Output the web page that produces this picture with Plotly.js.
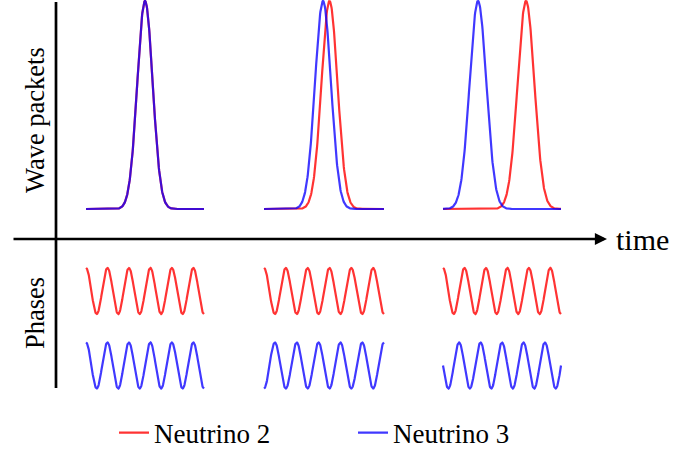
<!DOCTYPE html>
<html>
<head>
<meta charset="utf-8">
<script src="https://cdn.plot.ly/plotly-3.0.1.min.js"></script>
<style>
  html, body { margin: 0; padding: 0; background: #fff; }
  #chart { width: 675px; height: 453px; }
</style>
</head>
<body>
<div id="chart"></div>
<script>
// ---------- data (time units, origin at the vertical axis) ----------
const seriesNames = ['Neutrino 2', 'Neutrino 3'];
const groupStart = [30, 208, 387];          // start time of each snapshot window
const groupEnd = [148, 328, 505];           // end time of each snapshot window
const packetCenterN2 = [89, 273.5, 470];    // peak time of Neutrino 2 packet
const packetCenterN3 = [89, 267, 422];      // peak time of Neutrino 3 packet
const packetSpread = [7.7, 8.0, 8.4];       // packet width (std. dev.)
const phaseCycles = [5.5, 5.5, 5.5];        // oscillation cycles per window
const phaseShiftN2 = [0, 0, 0];             // phase (in units of pi)
const phaseShiftN3 = [0, 1, 0.5];           // phase (in units of pi)

// ---------- presentation ----------
const RED = 'rgb(255,0,0)';
const BLUE = 'rgb(10,0,255)';
const OPA_R = 0.8, OPA_B = 0.78;
const packetBase = 30, packetHeight = 208;
const phaseMidN2 = -52, phaseMidN3 = -126.5, phaseAmp = 23;
const NPTS = 400;

function packet(i, center) {
  const xs = [], ys = [];
  for (let k = 0; k <= NPTS; k++) {
    const t = groupStart[i] + (groupEnd[i] - groupStart[i]) * k / NPTS;
    xs.push(t);
    ys.push(packetBase + packetHeight * Math.exp(-0.5 * Math.pow((t - center) / packetSpread[i], 2)));
  }
  return {x: xs, y: ys};
}
function phase(i, shift, mid) {
  const xs = [], ys = [];
  const per = (groupEnd[i] - groupStart[i]) / phaseCycles[i];
  for (let k = 0; k <= NPTS; k++) {
    const t = groupStart[i] + (groupEnd[i] - groupStart[i]) * k / NPTS;
    xs.push(t);
    ys.push(mid + phaseAmp * Math.cos(2 * Math.PI * (t - groupStart[i]) / per + shift * Math.PI));
  }
  return {x: xs, y: ys};
}

const traces = [];
for (let i = 0; i < 3; i++) {
  const d = packet(i, packetCenterN2[i]);
  traces.push({x: d.x, y: d.y, mode: 'lines', line: {color: RED, width: 2.2}, opacity: OPA_R,
    name: seriesNames[0], legendgroup: 'n2', showlegend: i === 0, hoverinfo: 'skip'});
}
for (let i = 0; i < 3; i++) {
  const d = phase(i, phaseShiftN2[i], phaseMidN2);
  traces.push({x: d.x, y: d.y, mode: 'lines', line: {color: RED, width: 2.2}, opacity: OPA_R,
    name: seriesNames[0], legendgroup: 'n2', showlegend: false, hoverinfo: 'skip'});
}
for (let i = 0; i < 3; i++) {
  const d = packet(i, packetCenterN3[i]);
  traces.push({x: d.x, y: d.y, mode: 'lines', line: {color: BLUE, width: 2.2}, opacity: OPA_B,
    name: seriesNames[1], legendgroup: 'n3', showlegend: i === 0, hoverinfo: 'skip'});
}
for (let i = 0; i < 3; i++) {
  const d = phase(i, phaseShiftN3[i], phaseMidN3);
  traces.push({x: d.x, y: d.y, mode: 'lines', line: {color: BLUE, width: 2.2}, opacity: OPA_B,
    name: seriesNames[1], legendgroup: 'n3', showlegend: false, hoverinfo: 'skip'});
}

const serif = "'Liberation Serif', 'DejaVu Serif', serif";
const layout = {
  width: 675, height: 453,
  margin: {l: 0, r: 0, t: 0, b: 0, autoexpand: false},
  paper_bgcolor: '#fff', plot_bgcolor: '#fff',
  font: {family: serif, color: '#000'},
  xaxis: {range: [-56, 619], visible: false, fixedrange: true},
  yaxis: {range: [-214, 239], visible: false, fixedrange: true},
  showlegend: true,
  legend: {
    orientation: 'h', x: 114 / 675, xanchor: 'left', y: 0.044, yanchor: 'middle',
    font: {family: serif, size: 27, color: '#000'},
    entrywidth: 194, entrywidthmode: 'pixels', bgcolor: 'rgba(0,0,0,0)', traceorder: 'normal'
  },
  shapes: [
    {type: 'line', xref: 'x', yref: 'y', x0: 0, x1: 0, y0: -149, y1: 237,
     line: {color: '#000', width: 2.7}}
  ],
  annotations: [
    {xref: 'x', yref: 'y', x: 551, y: 0, ax: -44, ay: 0, axref: 'x', ayref: 'y',
     showarrow: true, arrowhead: 2, arrowsize: 0.9, arrowwidth: 2.7, arrowcolor: '#000', text: ''},
    {xref: 'x', yref: 'y', x: 558, y: 0, xanchor: 'left', yanchor: 'middle', showarrow: false,
     text: 'time', font: {family: serif, size: 30, color: '#000'}},
    {xref: 'x', yref: 'y', x: -21, y: 119, textangle: -90, showarrow: false,
     text: 'Wave packets', font: {family: serif, size: 26.5, color: '#000'}},
    {xref: 'x', yref: 'y', x: -21, y: -74, textangle: -90, showarrow: false,
     text: 'Phases', font: {family: serif, size: 26.5, color: '#000'}}
  ]
};

Plotly.newPlot('chart', traces, layout, {displayModeBar: false, staticPlot: true});
</script>
</body>
</html>
